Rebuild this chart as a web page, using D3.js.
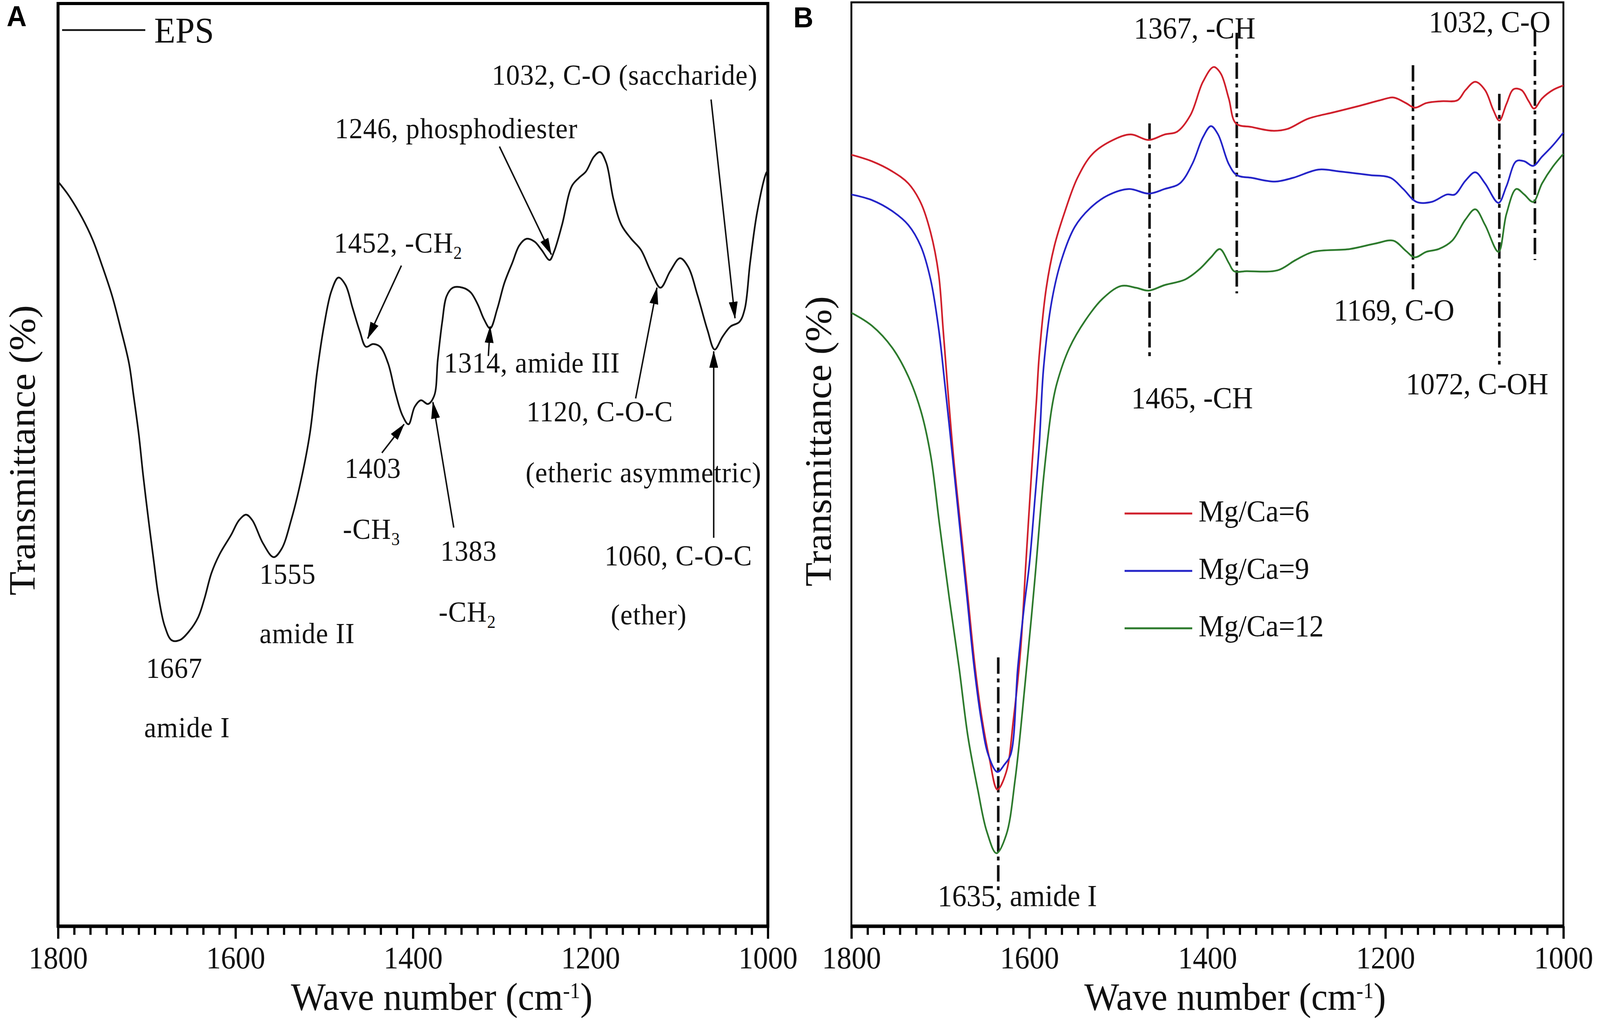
<!DOCTYPE html>
<html>
<head>
<meta charset="utf-8">
<script src="https://cdn.jsdelivr.net/npm/d3@7.9.0/dist/d3.min.js"></script>
<style>
  html, body { margin: 0; padding: 0; width: 100%; height: 100%; overflow: hidden; background: #fff; }
  #chart { width: 100%; height: 100%; }
  svg { display: block; }
</style>
</head>
<body>
<div id="chart"></div>
<script>
// ---------- panel A : EPS spectrum ----------
const epsWave = [1800,1788,1773,1761,1750,1739,1730,1720,1715,1709,1704,1698,1692,1687,1680,1672,1663,1652,1642,1635,
  1627,1618,1605,1596,1588,1581,1569,1557,1548,1537,1526,1516,1508,1500,1492,1484,1476,1468,1460,1453,
  1445,1437,1428,1420,1412,1405,1398,1391,1383,1376,1372,1367,1362,1355,1344,1335,1327,1320,1313,1305,
  1297,1288,1280,1272,1263,1255,1246,1241,1232,1221,1213,1205,1196,1189,1182,1174,1165,1154,1143,1132,
  1121,1110,1099,1090,1079,1068,1060,1051,1042,1032,1026,1020,1012,1002,1000];
const epsT = [80.7,79.2,76.8,74.4,71.5,68.3,65.0,61.0,57.6,53.3,48.8,44.0,39.5,35.9,32.6,31.0,31.0,32.0,33.5,35.5,
  38.3,40.3,42.4,44.0,44.6,44.0,41.5,40.0,40.9,44.1,48.4,53.5,60.1,65.2,68.8,70.3,69.5,67.0,64.5,62.8,
  63.1,62.8,61.0,57.9,55.4,54.4,56.3,57.0,56.6,57.5,61.4,65.5,68.3,69.2,69.2,68.7,67.4,65.8,64.8,66.9,
  69.7,71.9,73.8,74.5,74.2,73.3,72.2,73.1,76.0,80.2,81.1,81.8,83.4,83.9,82.7,78.8,76.0,74.5,73.3,71.0,
  69.2,71.0,72.4,71.5,68.3,64.6,62.5,63.9,65.0,65.5,66.9,71.9,77.4,81.6,81.9];

// annotation text (an "_n" marks a subscript) and where it sits, in data units
const aLabelText = ["1667","amide I","1555","amide II","1452, -CH_2","1403","-CH_3","1383","-CH_2",
  "1314, amide III","1246, phosphodiester","1032, C-O (saccharide)","1120, C-O-C","(etheric asymmetric)",
  "1060, C-O-C","(ether)"];
const aLabelWave = [1700.8,1703,1573,1573,1489,1477,1479,1369,1371,1365,1488,1311,1272,1273,1184,1177];
const aLabelT = [26.9,20.5,37.1,30.7,73.0,48.6,42.0,39.6,33.0,60.0,85.4,91.2,54.7,48.1,39.1,32.7];

// arrows: tail (wave, T) -> head (wave, T)
const arrowFromWave = [1413,1435,1354,1315,1302.5,1064,1149,1061];
const arrowFromT = [71.6,51.3,43.2,61.8,84.5,89.6,57.2,42.1];
const arrowToWave = [1451,1410,1377.5,1313,1244,1037,1125,1061];
const arrowToT = [63.7,54.4,56.8,65.0,72.8,65.9,69.2,62.3];

// ---------- panel B : Mg/Ca series ----------
const seriesNames = ["Mg/Ca=6","Mg/Ca=9","Mg/Ca=12"];
const seriesColors = ["#d0202c","#2424c8","#2d7a2d"];

const redWave = [1800,1777,1754,1736,1722,1711,1702,1697,1692,1685,1677,1669,1661,1653,1645,1636,1626,1618,1610,1604,
  1597,1592,1589,1581,1572,1561,1546,1529,1506,1486,1466,1448,1434,1419,1405,1393,1385,1376,1368,1350,
  1327,1310,1287,1258,1229,1206,1191,1177,1167,1154,1137,1119,1110,1099,1088,1079,1072,1064,1056,1047,
  1039,1033,1024,1012,1000];
const redT = [83.5,82.8,81.7,80.4,78.3,75.1,70.6,64.7,58.5,50.5,43.0,35.5,28.0,22.3,18.2,14.8,16.7,22.3,29.8,39.2,
  50.0,57.0,61.7,69.1,73.6,77.1,81.0,83.6,85.1,85.7,85.1,85.7,86.0,87.8,91.4,93.0,92.3,89.6,86.9,86.5,
  86.1,86.3,87.4,88.1,88.8,89.4,89.7,89.1,88.6,89.1,89.3,89.4,90.5,91.4,90.5,88.4,87.2,89.0,90.6,90.5,
  89.3,88.5,89.6,90.5,91.0];

const blueWave = [1800,1777,1754,1736,1722,1711,1702,1695,1686,1678,1670,1662,1654,1646,1636,1628,1621,1613,1606,1600,
  1594,1589,1584,1575,1564,1549,1532,1512,1488,1466,1448,1431,1417,1405,1396,1388,1376,1367,1350,1324,
  1304,1275,1252,1217,1194,1180,1165,1148,1131,1122,1110,1099,1088,1073,1064,1053,1044,1034,1024,1012,
  1000];
const blueT = [79.2,78.6,77.4,75.9,73.6,70.0,64.7,58.7,50.5,43.0,35.5,28.0,22.3,18.5,16.7,17.5,18.6,28.0,34.5,39.2,
  46.0,52.0,60.5,67.6,72.1,75.7,77.7,79.1,79.8,79.3,79.8,80.4,82.5,85.4,86.6,85.7,82.5,81.3,81.0,80.6,
  81.0,81.9,81.7,81.3,81.0,79.8,78.4,78.4,79.2,79.2,80.7,81.6,80.4,78.3,80.1,82.8,82.8,82.3,83.3,84.5,
  85.9];

const greenWave = [1800,1777,1754,1736,1722,1711,1701,1690,1679,1669,1658,1648,1637,1626,1616,1605,1594,1584,1575,1569,
  1555,1537,1518,1497,1480,1466,1448,1425,1408,1396,1386,1376,1370,1356,1321,1301,1281,1240,1211,1191,
  1177,1167,1154,1140,1125,1110,1099,1088,1073,1064,1053,1044,1034,1024,1012,1000];
const greenT = [66.4,65.0,62.6,59.5,55.8,51.0,43.5,35.5,28.0,20.5,14.8,10.3,7.9,9.9,15.9,26.1,37.4,48.6,56.0,58.8,
  62.6,65.6,67.9,69.3,69.1,68.8,69.4,70.0,71.2,72.4,73.3,71.8,70.9,70.9,71.0,72.1,73.0,73.3,73.9,74.2,
  73.1,72.4,73.0,73.3,74.2,76.5,77.6,75.9,73.0,77.1,79.8,79.2,78.4,80.4,82.2,83.6];

// dash-dot marker lines in B: wave number, top and bottom (T units)
const bLineWave = [1465,1367,1169,1072,1032,1635];
const bLineTop = [86.9,96.7,93.2,90.1,97.0,29.1];
const bLineBottom = [61.4,68.5,68.5,60.8,72.1,3.6];

const bLabelText = ["1367, -CH","1032, C-O","1169, C-O","1465, -CH","1072, C-OH","1635, amide I"];
const bLabelWave = [1482.7,1151.2,1258,1485.6,1177,1703];
const bLabelT = [96.1,96.8,65.6,56.1,57.6,2.2];

// axis ticks
const majorTicks = [1800,1600,1400,1200,1000];

// ---------- drawing ----------
const W = 4328, H = 2630;
const SERIF = "'Liberation Serif', 'Times New Roman', serif";
const SANS = "'Liberation Sans', Arial, sans-serif";

// the drawing is laid out on a 4328x2630 grid and stretched to the window
const svg = d3.select("#chart").append("svg")
  .attr("width", "100%").attr("height", "100%")
  .attr("viewBox", `0 0 ${W} ${H}`)
  .attr("preserveAspectRatio", "none");

svg.append("rect").attr("width", W).attr("height", H).attr("fill", "#fff");

// arrow head
svg.append("defs").append("marker")
  .attr("id", "arrowhead")
  .attr("markerUnits", "userSpaceOnUse")
  .attr("markerWidth", 44).attr("markerHeight", 24)
  .attr("refX", 42).attr("refY", 12)
  .attr("orient", "auto")
  .append("path")
  .attr("d", "M0,0 L44,12 L0,24 Z")
  .attr("fill", "#000");

// text with "_n" subscripts
function richText(g, str, px, py, size, spacing) {
  const t = g.append("text")
    .attr("x", px).attr("y", py)
    .attr("font-family", SERIF)
    .attr("font-size", size)
    .attr("letter-spacing", spacing || 0)
    .attr("fill", "#111");
  const parts = str.split(/(_\d)/).filter(p => p.length);
  let shifted = false;
  parts.forEach(p => {
    if (p.startsWith("_")) {
      t.append("tspan").attr("font-size", size * 0.62).attr("dy", size * 0.22).text(p.slice(1));
      shifted = true;
    } else {
      const s = t.append("tspan").text(p);
      if (shifted) { s.attr("dy", -size * 0.22); shifted = false; }
    }
  });
  return t;
}

function drawFrame(box, frameWidth, axisWidth) {
  const x = d3.scaleLinear().domain([1800, 1000]).range([box.left, box.right]);
  const y = d3.scaleLinear().domain([0, 100]).range([box.bottom, box.top]);
  const g = svg.append("g");

  // minor ticks: the original axis has 11 steps between labelled ticks
  const minor = d3.range(0, 45).filter(i => i % 11 !== 0).map(i => 1800 - i * 200 / 11);
  const minorAxis = g.append("g")
    .attr("transform", `translate(0,${box.bottom})`)
    .call(d3.axisBottom(x).tickValues(minor).tickSize(22).tickSizeOuter(0).tickFormat(""));
  minorAxis.select(".domain").remove();
  minorAxis.selectAll("line").attr("stroke", "#000").attr("stroke-width", 6);

  const majorAxis = g.append("g")
    .attr("transform", `translate(0,${box.bottom})`)
    .call(d3.axisBottom(x).tickValues(majorTicks).tickSize(32).tickSizeOuter(0).tickFormat(d3.format("d")));
  majorAxis.select(".domain").remove();
  majorAxis.selectAll("line").attr("stroke", "#000").attr("stroke-width", 6);
  majorAxis.selectAll("text")
    .attr("y", 108).attr("dy", 0)
    .attr("font-family", SERIF).attr("font-size", 80)
    .attr("fill", "#111");

  // frame
  g.append("rect")
    .attr("x", box.left).attr("y", box.top)
    .attr("width", box.right - box.left).attr("height", box.bottom - box.top)
    .attr("fill", "none").attr("stroke", "#000").attr("stroke-width", frameWidth);
  g.append("line")
    .attr("x1", box.left).attr("x2", box.right)
    .attr("y1", box.bottom).attr("y2", box.bottom)
    .attr("stroke", "#000").attr("stroke-width", axisWidth);

  // axis titles
  const xt = g.append("text")
    .attr("x", box.left + 630).attr("y", 2586)
    .attr("font-family", SERIF).attr("font-size", 100).attr("fill", "#111");
  xt.append("tspan").text("Wave number (cm");
  xt.append("tspan").attr("font-size", 56).attr("dy", -30).text("-1");
  xt.append("tspan").attr("dy", 30).text(")");

  g.append("text")
    .attr("transform", `translate(${box.titleX},${box.titleY}) rotate(-90)`)
    .attr("text-anchor", "middle")
    .attr("font-family", SERIF).attr("font-size", 100).attr("fill", "#111")
    .text("Transmittance (%)");

  g.append("text")
    .attr("x", box.letterX).attr("y", box.letterY)
    .attr("font-family", SANS).attr("font-weight", "bold").attr("font-size", 75)
    .attr("fill", "#000")
    .text(box.letter);

  return { x, y, g };
}

const line = (x, y) => d3.line()
  .x(d => x(d[0])).y(d => y(d[1]))
  .curve(d3.curveCatmullRom.alpha(0.5));

// ----- panel A -----
const A = drawFrame({ left: 157, right: 2077, top: 9, bottom: 2372,
  titleX: 94, titleY: 1153, letter: "A", letterX: 18, letterY: 67 }, 8, 9);

A.g.append("path")
  .datum(epsWave.map((w, i) => [w, epsT[i]]))
  .attr("d", line(A.x, A.y))
  .attr("fill", "none").attr("stroke", "#111").attr("stroke-width", 4.5);

aLabelText.forEach((s, i) => richText(A.g, s, A.x(aLabelWave[i]), A.y(aLabelT[i]), 74, 1.2));

arrowFromWave.forEach((w, i) => {
  A.g.append("line")
    .attr("x1", A.x(w)).attr("y1", A.y(arrowFromT[i]))
    .attr("x2", A.x(arrowToWave[i])).attr("y2", A.y(arrowToT[i]))
    .attr("stroke", "#111").attr("stroke-width", 4)
    .attr("marker-end", "url(#arrowhead)");
});

// EPS legend
A.g.append("line").attr("x1", 168).attr("x2", 393).attr("y1", 77).attr("y2", 77)
  .attr("stroke", "#111").attr("stroke-width", 4.5);
A.g.append("text").attr("x", 417).attr("y", 109)
  .attr("font-family", SERIF).attr("font-size", 94).attr("fill", "#111").text("EPS");

// ----- panel B -----
const B = drawFrame({ left: 2303, right: 4229, top: 6, bottom: 2372,
  titleX: 2248, titleY: 1130, letter: "B", letterX: 2146, letterY: 70 }, 5, 9);

const bSeries = [[redWave, redT], [blueWave, blueT], [greenWave, greenT]];

// dash-dot marker lines first, curves over them
bLineWave.forEach((w, i) => {
  B.g.append("line")
    .attr("x1", B.x(w)).attr("x2", B.x(w))
    .attr("y1", B.y(bLineTop[i])).attr("y2", B.y(bLineBottom[i]))
    .attr("stroke", "#111").attr("stroke-width", 7)
    .attr("stroke-dasharray", "42,12,10,12");
});

bSeries.forEach(([wv, tv], k) => {
  B.g.append("path")
    .datum(wv.map((w, i) => [w, tv[i]]))
    .attr("d", line(B.x, B.y))
    .attr("fill", "none").attr("stroke", seriesColors[k]).attr("stroke-width", 4.5);
});

bLabelText.forEach((s, i) => richText(B.g, s, B.x(bLabelWave[i]), B.y(bLabelT[i]), 78, 0));

// legend
const legend = B.g.append("g").attr("transform", "translate(3042,1315)");
seriesNames.forEach((name, i) => {
  const row = legend.append("g").attr("transform", `translate(0,${i * 147})`);
  row.append("line").attr("x1", 0).attr("x2", 183).attr("y1", 0).attr("y2", 0)
    .attr("stroke", seriesColors[i]).attr("stroke-width", 5);
  row.append("text").attr("x", 200).attr("y", 20)
    .attr("font-family", SERIF).attr("font-size", 78).attr("fill", "#111")
    .text(name);
});
</script>
</body>
</html>
